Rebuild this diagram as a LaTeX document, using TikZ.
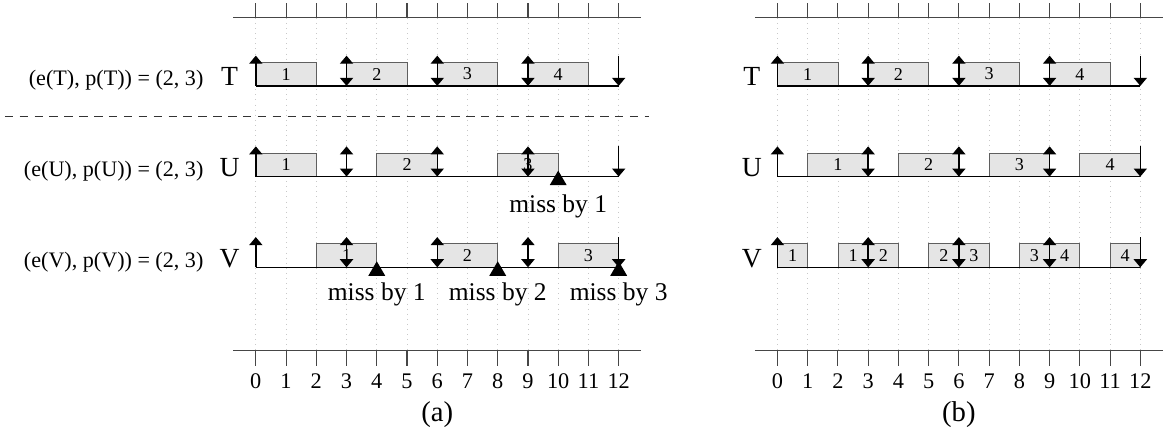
\documentclass[tikz,border=0pt]{standalone}
\usepackage{fontspec}
\setmainfont{Liberation Serif}
\usepackage{tikz}
\usetikzlibrary{arrows.meta}
\definecolor{jobbg}{RGB}{229,229,229}
\definecolor{jobline}{RGB}{95,95,95}
\definecolor{gridgray}{RGB}{200,200,200}
\definecolor{axisgray}{RGB}{70,70,70}
\newcommand{\jobfont}{\fontsize{8.5}{10}\selectfont}
\newcommand{\rowfont}{\fontsize{13}{15}\selectfont}
\newcommand{\paramfont}{\fontsize{10.4}{12}\selectfont}
\newcommand{\missfont}{\fontsize{12}{14}\selectfont}
\newcommand{\tickfont}{\fontsize{10.5}{12}\selectfont}
\newcommand{\capfont}{\fontsize{13.5}{15}\selectfont}
\tikzset{
  gridline/.style={draw=gridgray, dotted, line width=0.4pt},
  axisline/.style={draw=axisgray, line width=0.5pt},
  timeline/.style={draw=black, line width=0.65pt},
  job/.style={draw=jobline, fill=jobbg, line width=0.4pt, anchor=south west,
    minimum width=#1*5mm, minimum height=3.9mm, inner sep=0pt, outer sep=0pt,
    font=\jobfont},
  release/.style={->, line width=0.65pt},
  boundary/.style={<->, line width=0.65pt},
  rowname/.style={font=\rowfont, anchor=base, inner sep=0pt},
  params/.style={font=\paramfont, anchor=base east, inner sep=0pt},
  misslabel/.style={font=\missfont, anchor=base, inner sep=0pt},
  ticklabel/.style={font=\tickfont, anchor=base, inner sep=0pt},
  caption/.style={font=\capfont, anchor=base, inner sep=0pt},
  separator/.style={draw=black!80, line width=0.5pt, dash pattern=on 4pt off 3pt},
  missmark/.pic={\fill (-0.28,-0.28) -- (0.28,-0.28) -- (0,0.2) -- cycle;}
}

\begin{document}
\begin{tikzpicture}[x=5mm,y=5mm,>={Triangle[length=3.8pt,width=6.2pt]}]
  \useasboundingbox (-8.46,-11.57) rectangle (30,2.84);

  % time axes, grid and captions
  \foreach \dx/\panel in {0/a,17.25/b}{
    \begin{scope}[shift={(\dx,0)}]
      \foreach \t in {0,...,12}{
        \draw[gridline] (\t,2.25) -- (\t,-8.76);
        \draw[axisline] (\t,2.25) -- (\t,2.75);
        \draw[axisline] (\t,-8.76) -- (\t,-9.25);
        \node[ticklabel] (tick\panel\t) at (\t,-10.02) {\t};
      }
      \draw[axisline] (-0.75,2.25) -- (12.75,2.25);
      \draw[axisline] (-0.75,-8.76) -- (12.75,-8.76);
      \node[caption] (cap\panel) at (6,-11.1) {(\panel)};
    \end{scope}
  }

  \draw[separator] (-8.3,-1) -- (13,-1);

  % (a) executions
  \node[job=2] (aT1) at (0,0) {1};
  \node[job=2] (aT2) at (3,0) {2};
  \node[job=2] (aT3) at (6,0) {3};
  \node[job=2] (aT4) at (9,0) {4};
  \node[job=2] (aU1) at (0,-3) {1};
  \node[job=2] (aU2) at (4,-3) {2};
  \node[job=2] (aU3) at (8,-3) {3};
  \node[job=2] (aV1) at (2,-6) {1};
  \node[job=2] (aV2) at (6,-6) {2};
  \node[job=2] (aV3) at (10,-6) {3};

  % (b) executions
  \node[job=2] (bT1) at (17.25,0) {1};
  \node[job=2] (bT2) at (20.25,0) {2};
  \node[job=2] (bT3) at (23.25,0) {3};
  \node[job=2] (bT4) at (26.25,0) {4};
  \node[job=2] (bU1) at (18.25,-3) {1};
  \node[job=2] (bU2) at (21.25,-3) {2};
  \node[job=2] (bU3) at (24.25,-3) {3};
  \node[job=2] (bU4) at (27.25,-3) {4};
  \node[job=1] (bV1) at (17.25,-6) {1};
  \node[job=1] (bV2) at (19.25,-6) {1};
  \node[job=1] (bV3) at (20.25,-6) {2};
  \node[job=1] (bV4) at (22.25,-6) {2};
  \node[job=1] (bV5) at (23.25,-6) {3};
  \node[job=1] (bV6) at (25.25,-6) {3};
  \node[job=1] (bV7) at (26.25,-6) {4};
  \node[job=1] (bV8) at (28.25,-6) {4};

  % periods: release / deadline arrows
  \foreach \dx in {0,17.25}
    \foreach \y in {0,-3,-6}{
      \begin{scope}[shift={(\dx,\y)}]
        \draw[timeline] (0,0) -- (12,0);
        \draw[release] (0,0) -- (0,1);
        \foreach \t in {3,6,9} \draw[boundary] (\t,0) -- (\t,1);
        \draw[release] (12,1) -- (12,0);
      \end{scope}
    }

  % deadline misses
  \pic at (10,-3) {missmark};
  \pic at (4,-6) {missmark};
  \pic at (8,-6) {missmark};
  \pic at (12,-6) {missmark};
  \node[misslabel] (missU) at (10,-4.2) {miss by 1};
  \node[misslabel] (missV1) at (4,-7.1) {miss by 1};
  \node[misslabel] (missV2) at (8,-7.1) {miss by 2};
  \node[misslabel] (missV3) at (12,-7.1) {miss by 3};

  % task names
  \node[params] (parT) at (-1.72,0) {(e(T), p(T)) = (2, 3)};
  \node[params] (parU) at (-1.72,-3) {(e(U), p(U)) = (2, 3)};
  \node[params] (parV) at (-1.72,-6) {(e(V), p(V)) = (2, 3)};
  \node[rowname] (aT) at (-0.87,0) {T};
  \node[rowname] (aU) at (-0.87,-3) {U};
  \node[rowname] (aV) at (-0.87,-6) {V};
  \node[rowname] (bT) at (16.4,0) {T};
  \node[rowname] (bU) at (16.4,-3) {U};
  \node[rowname] (bV) at (16.4,-6) {V};
\end{tikzpicture}
\end{document}
